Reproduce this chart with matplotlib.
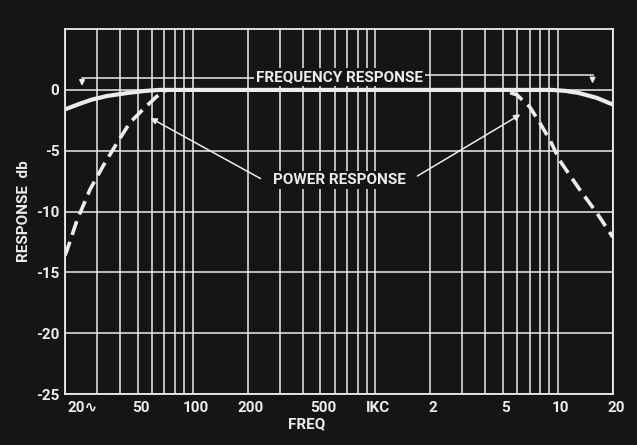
import matplotlib
matplotlib.use("Agg")
from matplotlib import pyplot as plt
from matplotlib.ticker import LogLocator, NullFormatter
from matplotlib.transforms import ScaledTranslation

# frequency response (solid)
freq_hz = [20, 24, 28, 34, 44, 55, 66, 100, 1000, 5000, 9300, 11000, 13000, 16300, 20000]
freq_db = [-1.6, -1.15, -0.8, -0.5, -0.25, -0.08, 0, 0, 0, 0, 0, -0.08, -0.25, -0.65, -1.2]

# power response (dashed)
power_hz = [20, 20.5, 23.3, 27.4, 32.2, 38.4, 45.3, 53.5, 63.5, 72, 100, 1000, 4930, 5960, 7020,
            7960, 9040, 10240, 13180, 16330, 20000]
power_db = [-13.6, -13.2, -10.7, -8.2, -6.3, -4.4, -2.7, -1.6, -0.55, 0, 0, 0, 0, -0.4, -1.4,
            -2.7, -4.1, -5.8, -8.2, -10.1, -12.1]

xtick_pos = [20, 50, 100, 200, 500, 1000, 2000, 5000, 10000, 20000]
xtick_lab = ["20\u223f", "50", "100", "200", "500", "IKC", "2", "5", "10", "20"]
ytick_pos = [0, -5, -10, -15, -20, -25]
ytick_lab = ["0", "-5", "-10", "-15", "-20", "-25"]

bg = "#151515"
fg = "#ececec"

plt.rcParams["font.family"] = ["Roboto", "DejaVu Sans"]
plt.rcParams["font.weight"] = "bold"
plt.rcParams["axes.labelweight"] = "bold"
fs = 11

fig = plt.figure(figsize=(6.37, 4.45), dpi=100, facecolor=bg)
ax = fig.add_axes([0.102, 0.1146, 0.86, 0.82], facecolor=bg)

ax.set_xscale("log")
ax.set_xlim(20, 20000)
ax.set_ylim(-25, 5)

ax.set_xticks(xtick_pos)
ax.set_xticklabels(xtick_lab)
ax.xaxis.set_minor_locator(LogLocator(base=10, subs=range(2, 10)))
ax.xaxis.set_minor_formatter(NullFormatter())
ax.set_yticks(ytick_pos)
ax.set_yticklabels(ytick_lab)

ax.grid(True, which="both", axis="x", color=fg, linewidth=1.1)
ax.grid(True, which="major", axis="y", color=fg, linewidth=1.1)
ax.tick_params(which="both", length=0, colors=fg, labelsize=fs)
ax.tick_params(axis="x", pad=5)
ax.tick_params(axis="y", pad=4)
shift = ScaledTranslation(3 / 100, 0, fig.dpi_scale_trans)
for lab in ax.get_xticklabels():
    lab.set_transform(lab.get_transform() + shift)
ax.get_xticklabels()[0].set_horizontalalignment("left")
for s in ax.spines.values():
    s.set_color(fg)
    s.set_linewidth(1.3)

ax.plot(freq_hz, freq_db, color=fg, linewidth=3, solid_capstyle="butt", zorder=3)
ax.plot(power_hz, power_db, color=fg, linewidth=2.6, dashes=(4, 2), zorder=3)

# labels
ax.text(0.441, -0.065, "FREQ", transform=ax.transAxes, color=fg, fontsize=fs,
        ha="center", va="top")
ax.set_ylabel("RESPONSE  db", color=fg, fontsize=fs)
ax.yaxis.set_label_coords(-0.062, 0.50)

# frequency response annotation
ax.text(640, 1.05, "FREQUENCY RESPONSE", color=fg, fontsize=fs, ha="center", va="center",
        bbox=dict(facecolor=bg, edgecolor="none", pad=1.5), zorder=5)
ax.plot([24.8, 240], [1.0, 1.0], color=fg, linewidth=1.1, zorder=4)
ax.plot([1700, 15500], [1.2, 1.2], color=fg, linewidth=1.1, zorder=4)
ax.annotate("", xy=(24.8, 0.1), xytext=(24.8, 1.0),
            arrowprops=dict(arrowstyle="-|>", color=fg, lw=1.1, mutation_scale=8), zorder=4)
ax.annotate("", xy=(15500, 0.3), xytext=(15500, 1.2),
            arrowprops=dict(arrowstyle="-|>", color=fg, lw=1.1, mutation_scale=8), zorder=4)

# power response annotation
ax.text(640, -7.4, "POWER RESPONSE", color=fg, fontsize=fs, ha="center", va="center",
        bbox=dict(facecolor=bg, edgecolor="none", pad=1.5), zorder=5)
ax.annotate("", xy=(57, -2.2), xytext=(243, -7.4),
            arrowprops=dict(arrowstyle="-|>", color=fg, lw=1.1, mutation_scale=9), zorder=4)
ax.annotate("", xy=(6430, -1.9), xytext=(1650, -7.2),
            arrowprops=dict(arrowstyle="-|>", color=fg, lw=1.1, mutation_scale=9), zorder=4)

fig.savefig("out.png", dpi=100, facecolor=bg)
